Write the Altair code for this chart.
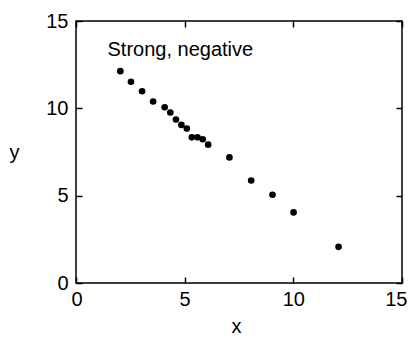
import altair as alt
import pandas as pd

x_vals = [2.04, 2.53, 3.04, 3.55, 4.08, 4.34, 4.60, 4.85, 5.10, 5.33, 5.59, 5.83, 6.08, 7.06, 8.06, 9.04, 10.01, 12.08]
y_vals = [12.13, 11.52, 10.98, 10.39, 10.06, 9.76, 9.36, 9.05, 8.84, 8.34, 8.34, 8.23, 7.92, 7.19, 5.87, 5.05, 4.04, 2.07]
tick_values = [0, 5, 10, 15]
label_text = ["Strong, negative"]
label_x = [1.45]
label_y = [13.0]

FONT = "Liberation Sans"
df = pd.DataFrame({"x": x_vals, "y": y_vals})
lab = pd.DataFrame({"x": label_x, "y": label_y, "t": label_text})

xscale = alt.Scale(domain=[0, 15], nice=False, zero=False)
yscale = alt.Scale(domain=[0, 15], nice=False, zero=False)

base_axis = dict(
    values=tick_values, domain=False, grid=False, ticks=True, tickSize=6, offset=-6,
    tickColor="black", tickWidth=1.5,
    labelFont=FONT, labelFontSize=20, labelColor="black",
    titleFont=FONT, titleFontSize=20, titleColor="black", titleFontWeight="normal",
)

points = alt.Chart(df).mark_circle(size=44, color="black", opacity=1).encode(
    x=alt.X("x:Q", scale=xscale, axis=alt.Axis(
        orient="bottom", title="x", labelPadding=6, labelFlush=True, labelFlushOffset=5,
        titleBaseline="alphabetic", titleAlign="center", titleX=160, titleY=55, **base_axis)),
    y=alt.Y("y:Q", scale=yscale, axis=alt.Axis(
        orient="left", title="y", labelPadding=8, labelFlush=False, labelBaseline="middle",
        titleAngle=0, titleAlign="center", titleBaseline="alphabetic",
        titleX=-68, titleY=137, **base_axis)),
)

mirror_axis = dict(base_axis)
texts = alt.Chart(lab).mark_text(
    font=FONT, fontSize=20, color="black", align="left", baseline="alphabetic"
).encode(
    x=alt.X("x:Q", scale=xscale, axis=alt.Axis(orient="top", labels=False, title=None, **mirror_axis)),
    y=alt.Y("y:Q", scale=yscale, axis=alt.Axis(orient="right", labels=False, title=None, **mirror_axis)),
    text="t:N",
)

chart = alt.layer(points, texts).resolve_axis(x="independent", y="independent").properties(
    width=326, height=262,
    background="white",
    autosize=alt.AutoSizeParams(type="none"),
    padding={"left": 68, "top": 13, "right": 6, "bottom": 52},
).configure_view(stroke="black", strokeWidth=1.5)

chart.save("out.html", embed_options={"renderer": "svg", "actions": False})
